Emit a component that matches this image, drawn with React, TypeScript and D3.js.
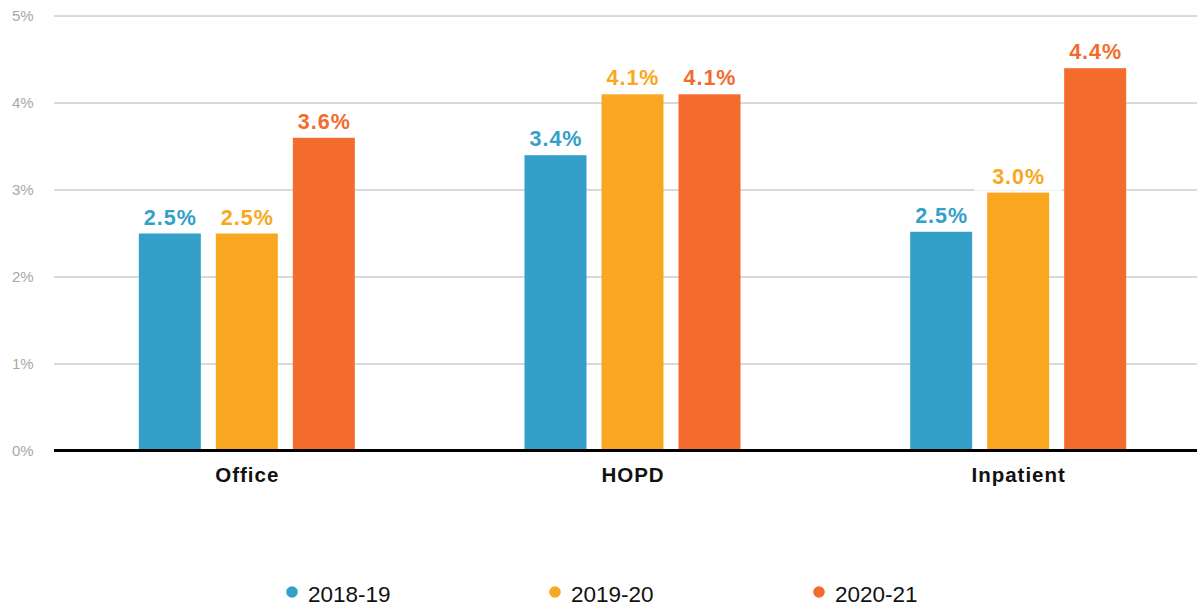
import React from "react";
import * as d3 from "d3";

const categories = ["Office", "HOPD", "Inpatient"];
const seriesNames = ["2018-19", "2019-20", "2020-21"];
const values2018 = [2.5, 3.4, 2.52];
const values2019 = [2.5, 4.1, 2.97];
const values2020 = [3.6, 4.1, 4.4];
const seriesColors = ["#34A0C9", "#F9A720", "#F36B2D"];
const yTicks = [0, 1, 2, 3, 4, 5];

const W = 1197;
const H = 605;
const FONT = "'Liberation Sans', Arial, Helvetica, sans-serif";

export default function App() {
  const seriesValues = [values2018, values2019, values2020];
  const y = d3.scaleLinear().domain([0, 5]).range([451, 16]);
  const x0 = d3.scaleBand<string>().domain(categories).range([54, 1211]).padding(0);
  const x1 = d3
    .scaleBand<string>()
    .domain(seriesNames)
    .range([0, 216])
    .paddingInner(15 / 77)
    .paddingOuter(0);
  const bw = x1.bandwidth();
  const fmt = (v: number) => v.toFixed(1) + "%";

  const bars: any[] = [];
  categories.forEach((c, ci) => {
    const center = (x0(c) as number) + x0.bandwidth() / 2;
    seriesNames.forEach((s, si) => {
      const v = seriesValues[si][ci];
      const bx = center - 108 + (x1(s) as number);
      bars.push({ c, s, si, v, bx, cx: bx + bw / 2, top: y(v) });
    });
  });

  const legendX = [292, 555, 819];

  return (
    <div style={{ position: "absolute", left: 0, top: 0 }}>
      <svg width={W} height={H} style={{ display: "block" }} fontFamily={FONT}>
        <rect x={0} y={0} width={W} height={H} fill="#fff" />
        {yTicks.map((t) => (
          <g key={t}>
            {t > 0 && (
              <line x1={54} x2={W} y1={y(t)} y2={y(t)} stroke="#B4B4B4" strokeWidth={1} />
            )}
            <text x={12} y={y(t) + 5} fontSize={15} fill="#A8A8A8">
              {t + "%"}
            </text>
          </g>
        ))}
        {bars.map((b, i) => (
          <rect
            key={"bg" + i}
            x={b.cx - 44}
            y={b.top - 9 - 21}
            width={88}
            height={28}
            fill="#fff"
          />
        ))}
        {bars.map((b, i) => (
          <rect
            key={"b" + i}
            x={b.bx}
            y={b.top}
            width={bw}
            height={452 - b.top}
            fill={seriesColors[b.si]}
          />
        ))}
        <line x1={54} x2={W} y1={450.5} y2={450.5} stroke="#000" strokeWidth={3} />
        {bars.map((b, i) => (
          <text
            key={"l" + i}
            x={b.cx + 0.5}
            y={b.top - 9}
            textAnchor="middle"
            fontSize={21.5}
            fontWeight="bold"
            letterSpacing={1}
            fill={seriesColors[b.si]}
          >
            {fmt(b.v)}
          </text>
        ))}
        {categories.map((c) => (
          <text
            key={c}
            x={(x0(c) as number) + x0.bandwidth() / 2 + 0.5}
            y={482}
            textAnchor="middle"
            fontSize={20.5}
            fontWeight="bold"
            letterSpacing={1}
            fill="#111"
          >
            {c}
          </text>
        ))}
        {seriesNames.map((s, i) => (
          <g key={s}>
            <circle cx={legendX[i]} cy={592} r={5.8} fill={seriesColors[i]} />
            <text x={legendX[i] + 16} y={601.5} fontSize={22.5} fill="#111">
              {s}
            </text>
          </g>
        ))}
      </svg>
    </div>
  );
}
